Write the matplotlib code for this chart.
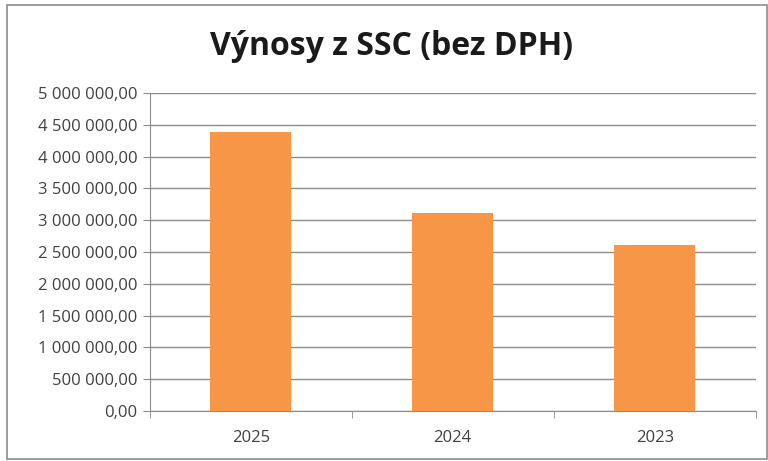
import matplotlib
matplotlib.use("Agg")
import matplotlib.pyplot as plt
from matplotlib.ticker import FuncFormatter, MultipleLocator, FixedLocator
from matplotlib.patches import Rectangle

categories = ["2025", "2024", "2023"]
values = [4385000, 3113000, 2604000]
title = "Výnosy z SSC (bez DPH)"

plt.rcParams['font.family'] = ['Open Sans', 'DejaVu Sans']

fig = plt.figure(figsize=(7.68, 4.61), dpi=100)
ax = fig.add_axes([0.195, 0.1085, 0.789, 0.6895])

x = list(range(len(categories)))
ax.bar(x, values, width=0.4, color="#F79646", zorder=3)

ax.set_xlim(-0.5, len(categories) - 0.5)
ax.set_ylim(0, 5000000)
ax.yaxis.set_major_locator(MultipleLocator(500000))

def fmt(v, pos):
    s = f"{v:,.2f}"
    return s.replace(",", " ").replace(".", ",")

ax.yaxis.set_major_formatter(FuncFormatter(fmt))
ax.set_xticks(x)
ax.set_xticklabels(categories)
ax.xaxis.set_minor_locator(FixedLocator([i - 0.5 for i in range(len(categories) + 1)]))

ax.grid(axis="y", color="#8C8C8C", linewidth=1, zorder=0)
for s in ["top", "right"]:
    ax.spines[s].set_visible(False)
for s in ["left", "bottom"]:
    ax.spines[s].set_color("#8C8C8C")
ax.tick_params(axis="y", which="major", length=5, color="#8C8C8C", labelsize=12, labelcolor="#404040", pad=4)
ax.tick_params(axis="x", which="major", length=0, labelsize=12, labelcolor="#404040", pad=14)
ax.tick_params(axis="x", which="minor", length=5, color="#8C8C8C")

fig.text(0.51, 0.9, title, ha="center", va="center", fontsize=23, fontweight="bold", color="#1a1a1a")

fig.patches.append(Rectangle((0.009, 0.005), 0.99, 0.985, transform=fig.transFigure,
                             fill=False, edgecolor="#8C8C8C", linewidth=1.2))

fig.savefig("out.png", dpi=100)
